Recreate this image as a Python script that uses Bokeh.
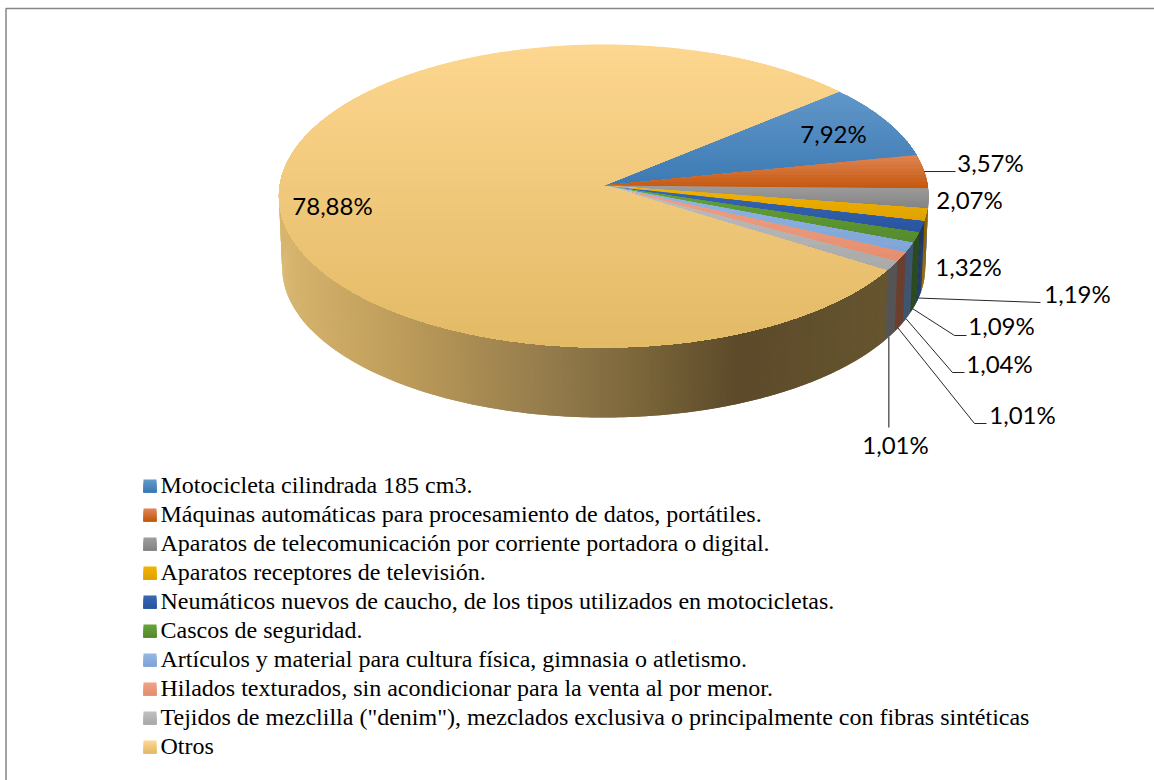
import math
from bokeh.plotting import figure
from bokeh.embed import file_html
from bokeh.resources import INLINE
from bokeh.core.properties import value

categories = [
    "Motocicleta cilindrada 185 cm3.",
    "Máquinas automáticas para procesamiento de datos, portátiles.",
    "Aparatos de telecomunicación por corriente portadora o digital.",
    "Aparatos receptores de televisión.",
    "Neumáticos nuevos de caucho, de los tipos utilizados en motocicletas.",
    "Cascos de seguridad.",
    "Artículos y material para cultura física, gimnasia o atletismo.",
    "Hilados texturados, sin acondicionar para la venta al por menor.",
    'Tejidos de mezclilla ("denim"), mezclados exclusiva o principalmente con fibras sintéticas',
    "Otros",
]
shares = [7.92, 3.57, 2.07, 1.32, 1.19, 1.09, 1.04, 1.01, 1.01, 78.88]

top_light = ["#6197C9", "#DF8250", "#9C9C9C", "#F2B200", "#3766B2", "#64A238", "#92B5E2", "#F0A084", "#BEBEBE", "#FDD68F"]
top_dark = ["#3D7AB4", "#C55A11", "#848484", "#DFA200", "#2A55A0", "#568C2E", "#7FA6D8", "#E58F70", "#AAAAAA", "#E3BA66"]
side_col = ["#2F5C88", "#8A4510", "#6E6E6E", "#8A6500", "#1F3864", "#2B4A1F", "#3F5570", "#6B3F30", "#555555", None]
otros_side = [(278, "#D8B66F"), (400, "#BD9C5A"), (560, "#90784A"), (640, "#7A6539"), (735, "#5C4A2A"), (885, "#66552F")]

CX, CY, RX, B, A = 603.2, 185, 324, 150.8, 0.0693
START, DEPTH, SCALE = 49.4, 71.6, 0.99


def pt(deg, s=1.0, off=0.0):
    t = math.radians(deg)
    u, v = math.sin(t), -math.cos(t)
    w = 1 - A * v
    return CX + s * RX * u / w, CY + off + s * B * v / w


def hx(c):
    return [int(c[i:i + 2], 16) for i in (1, 3, 5)]


def mix(c1, c2, f):
    a, b = hx(c1), hx(c2)
    return "#%02x%02x%02x" % tuple(round(a[i] + (b[i] - a[i]) * f) for i in range(3))


def clip_below(poly, y0):
    out = []
    for i in range(len(poly)):
        p, q = poly[i], poly[(i + 1) % len(poly)]
        pin, qin = p[1] >= y0, q[1] >= y0
        if pin:
            out.append(p)
        if pin != qin:
            f = (y0 - p[1]) / (q[1] - p[1])
            out.append((p[0] + (q[0] - p[0]) * f, y0))
    return out


def side_otros_color(x):
    if x <= otros_side[0][0]:
        return otros_side[0][1]
    for (x0, c0), (x1, c1) in zip(otros_side, otros_side[1:]):
        if x <= x1:
            return mix(c0, c1, (x - x0) / (x1 - x0))
    return otros_side[-1][1]


total = sum(shares)
edges = [START]
for s in shares:
    edges.append(edges[-1] + s / total * 360)

p = figure(width=1154, height=780, x_range=(0, 1154), y_range=(780, 0),
           toolbar_location=None, output_backend="svg", min_border=0,
           x_axis_type="linear", background_fill_color="white")
p.axis.visible = False
p.grid.visible = False
p.outline_line_color = None
p.styles = {"position": "absolute", "left": "0px", "top": "0px"}

# chart frame
p.line([5.5, 5.5, 1154], [780, 8, 8], line_color="#868686", line_width=1.5)

# side wall: each quad overlaps the previous one so no seams show
sx, sy, sc = [], [], []
for i in range(len(shares)):
    a0, a1 = edges[i], edges[i + 1]
    if a1 < 75:
        continue
    a0 = max(a0, 75)
    a1 = min(a1, 285)
    n = max(2, int((a1 - a0) / 0.4))
    st = (a1 - a0) / n
    for k in range(n):
        t0 = a0 + st * k
        t1 = t0 + st
        ext = max(a0 - 0.5, t0 - st) if i else t0
        q = [pt(ext), pt(t1), pt(t1, SCALE, DEPTH), pt(ext, SCALE, DEPTH)]
        sx.append([c[0] for c in q])
        sy.append([c[1] for c in q])
        if side_col[i] is None:
            sc.append(side_otros_color((pt(t0)[0] + pt(t1)[0]) / 2))
        else:
            sc.append(side_col[i])
p.patches(sx, sy, fill_color=sc, line_color=None)

# top faces, painted as overlapping horizontal bands for the vertical shading
tx, ty, tc = [], [], []
for i in range(len(shares)):
    a0, a1 = edges[i], edges[i + 1]
    n = max(6, int((a1 - a0) * 2))
    poly = [(CX, CY)] + [pt(a0 + (a1 - a0) * k / n) for k in range(n + 1)]
    ymin = min(c[1] for c in poly)
    ymax = max(c[1] for c in poly)
    bands = 40 if shares[i] > 5 else 10
    for b in range(bands):
        y0 = ymin + (ymax - ymin) * b / bands
        piece = clip_below(poly, y0) if b else poly
        if len(piece) < 3:
            continue
        tx.append([c[0] for c in piece])
        ty.append([c[1] for c in piece])
        tc.append(mix(top_light[i], top_dark[i], b / (bands - 1)))
p.patches(tx, ty, fill_color=tc, line_color=None)

# value labels & leaders
mids = [(edges[i] + edges[i + 1]) / 2 for i in range(len(shares))]
label_pos = [(833, 132.5), (990, 161.5), (969, 198.5), (968, 265.5), (1077, 292.5),
             (1001, 324.5), (999, 362.5), (1022, 413.5), (895, 443.5), (332, 204.5)]
labels = [f"{v:.2f}".replace(".", ",") + "%" for v in shares]

leaders = {
    4: [(1040, 302)],
    5: [(954, 335), (966, 335)],
    6: [(952, 372), (964, 372)],
    7: [(974, 423), (986, 423)],
}
for i, rest in leaders.items():
    a = pt(mids[i], SCALE, DEPTH)
    p.line([a[0]] + [c[0] for c in rest], [a[1]] + [c[1] for c in rest],
           line_color="#262626", line_width=1)
a = pt(mids[8], SCALE, DEPTH)
p.line([a[0], a[0]], [a[1], 427], line_color="#666666", line_width=1.6)
a = pt(mids[1])
p.line([a[0], 955], [a[1], a[1]], line_color="#262626", line_width=1)

p.text([c[0] for c in label_pos], [c[1] for c in label_pos], text=labels,
       text_font=value("Lato"), text_font_size="24px", text_color="#000000",
       text_align="center", text_baseline="middle")

# legend
lx, ly, lc = [], [], []
for i in range(len(categories)):
    y_top = 479 + 29 * i
    for b in range(6):
        y = y_top + 13 * b / 6
        lx.append([143, 156, 156, 143])
        ly.append([y, y, y_top + 13, y_top + 13])
        lc.append(mix(top_light[i], top_dark[i], b / 5))
p.patches(lx, ly, fill_color=lc, line_color=None)
p.text([160] * len(categories), [484 + 29 * i for i in range(len(categories))], text=categories,
       text_font=value("Liberation Serif"), text_font_size="24px", text_color="#000000",
       text_align="left", text_baseline="alphabetic")

open("out.html", "w").write(file_html(p, INLINE))
